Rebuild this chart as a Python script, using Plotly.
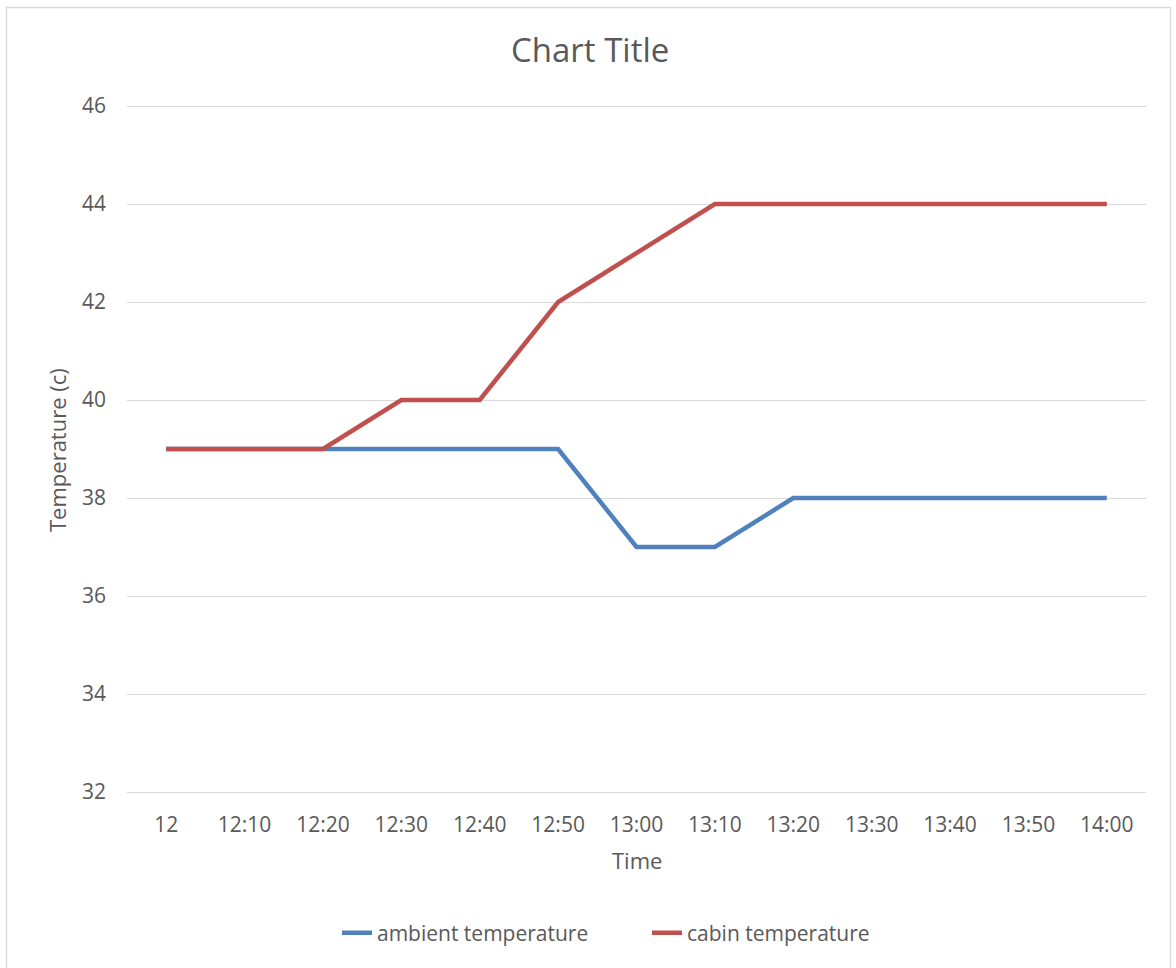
import plotly.graph_objects as go

times = ["12", "12:10", "12:20", "12:30", "12:40", "12:50", "13:00",
         "13:10", "13:20", "13:30", "13:40", "13:50", "14:00"]
ambient = [39, 39, 39, 39, 39, 39, 37, 37, 38, 38, 38, 38, 38]
cabin = [39, 39, 39, 40, 40, 42, 43, 44, 44, 44, 44, 44, 44]
y_ticks = [32, 34, 36, 38, 40, 42, 44, 46]

FONT = "Open Sans"
TXT = "#595959"

fig = go.Figure()
fig.add_trace(go.Scatter(x=list(range(len(times))), y=ambient, mode="lines",
                         name="ambient temperature",
                         line=dict(color="#4f81bd", width=4.5)))
fig.add_trace(go.Scatter(x=list(range(len(times))), y=cabin, mode="lines",
                         name="cabin temperature",
                         line=dict(color="#c0504d", width=4.5)))

PAD = 5  # px of padding above/below the outer gridlines
UNIT = 49.0  # px per degree
L, R, T, B = 127, 30, 106 - PAD, 176 - PAD
W, H = 1176, 968
pw, ph = W - L - R, H - T - B
d = PAD / UNIT

def px_x(p):
    return (p - L) / pw

def px_y(p):
    return (H - B - p) / ph

fig.update_layout(
    width=W, height=H,
    margin=dict(l=L, r=R, t=T, b=B),
    paper_bgcolor="white", plot_bgcolor="white",
    font=dict(family=FONT, color=TXT, size=21),
    showlegend=True,
    legend=dict(orientation="h", x=px_x(647), xanchor="center",
                y=px_y(933), yanchor="middle",
                font=dict(size=21, color=TXT),
                entrywidth=265, entrywidthmode="pixels",
                bgcolor="rgba(0,0,0,0)"),
    xaxis=dict(range=[-0.5, len(times) - 0.5], tickmode="array",
               tickvals=list(range(len(times))), ticktext=times,
               showgrid=False, zeroline=False, showline=False,
               ticks="", ticklabelstandoff=13,
               tickfont=dict(size=21, color=TXT), fixedrange=True),
    yaxis=dict(range=[32 - d, 46 + d], tickmode="array", tickvals=y_ticks,
               showgrid=True, gridcolor="#d9d9d9", gridwidth=1.3,
               zeroline=False, showline=False, ticks="",
               ticklabelstandoff=20,
               tickfont=dict(size=21, color=TXT), fixedrange=True),
    annotations=[
        dict(text="Chart Title", x=px_x(590), xref="paper", y=px_y(50), yref="paper",
             xanchor="center", yanchor="middle", showarrow=False,
             font=dict(size=33, color=TXT, family=FONT)),
        dict(text="Time", x=px_x(637), xref="paper", y=px_y(860), yref="paper",
             xanchor="center", yanchor="middle", showarrow=False,
             font=dict(size=22, color=TXT, family=FONT)),
        dict(text="Temperature (c)", x=px_x(57), xref="paper", y=px_y(450),
             yref="paper", xanchor="center", yanchor="middle", showarrow=False,
             textangle=-90, font=dict(size=22, color=TXT, family=FONT)),
    ],
    shapes=[
        dict(type="rect", xref="paper", yref="paper",
             x0=px_x(6.5), x1=px_x(1170.5), y0=px_y(980), y1=px_y(7.5),
             line=dict(color="#d9d9d9", width=1.5), fillcolor="rgba(0,0,0,0)",
             layer="below"),
    ],
)

fig.write_html("out.html", config={"displayModeBar": False},
               post_script="document.body.style.margin='0px';document.body.style.overflow='hidden';")
